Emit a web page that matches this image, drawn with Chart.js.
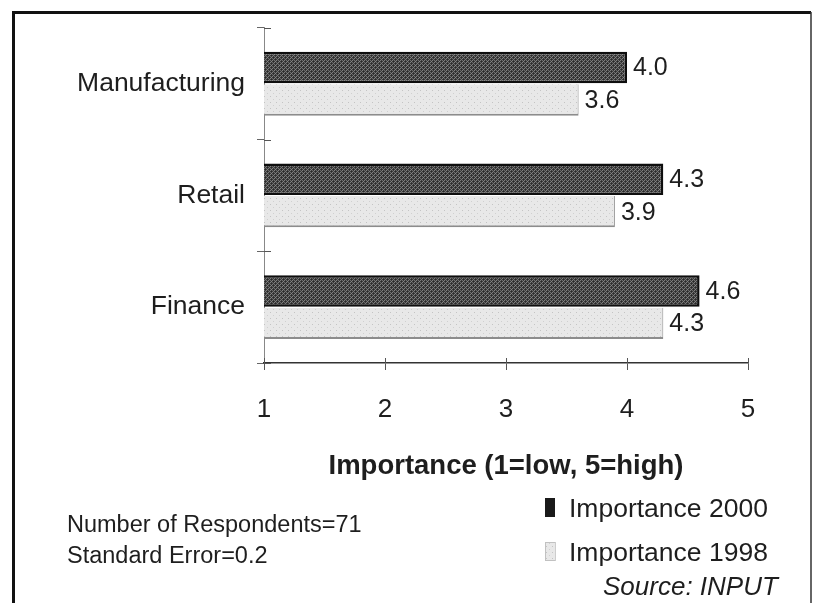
<!DOCTYPE html>
<html>
<head>
<meta charset="utf-8">
<script src="https://cdn.jsdelivr.net/npm/chart.js@4/dist/chart.umd.min.js"></script>
<style>
  html, body { margin: 0; padding: 0; background: #ffffff; }
  #wrap { width: 814px; height: 603px; position: relative; }
</style>
</head>
<body>
<div id="wrap"><canvas id="c" width="814" height="603"></canvas></div>
<script>
// Chart data
const categories = ['Manufacturing', 'Retail', 'Finance'];
const importance2000 = [4.0, 4.3, 4.6];
const importance1998 = [3.6, 3.9, 4.3];
const seriesNames = ['Importance 2000', 'Importance 1998'];
const xTicks = [1, 2, 3, 4, 5];
const axisTitle = 'Importance (1=low, 5=high)';
const notes = ['Number of Respondents=71', 'Standard Error=0.2'];
const sourceNote = 'Source: INPUT';

const FONT = "'Liberation Sans', Arial, Helvetica, sans-serif";
const INK = '#1e1e1e';

const canvas = document.getElementById('c');
const ctx = canvas.getContext('2d');

// Halftone-like fills for the bars
function makePattern(size, base, dots) {
  const tile = document.createElement('canvas');
  tile.width = tile.height = size;
  const g = tile.getContext('2d');
  g.fillStyle = base;
  g.fillRect(0, 0, size, size);
  dots.forEach(([dx, dy, col]) => { g.fillStyle = col; g.fillRect(dx, dy, 1, 1); });
  return ctx.createPattern(tile, 'repeat');
}
const darkFill = makePattern(4, '#3a3a3a', [
  [0, 0, '#7c7c7c'], [2, 0, '#6e6e6e'], [1, 1, '#2a2a2a'], [3, 1, '#858585'],
  [0, 2, '#666666'], [2, 2, '#808080'], [1, 3, '#777777'], [3, 3, '#2a2a2a']
]);
const lightFill = makePattern(6, '#e8e8e8', [[0, 0, '#c4c4c4'], [3, 3, '#d0d0d0']]);

const decor = {
  id: 'decor',
  afterDatasetsDraw(chart) {
    const c = chart.ctx;
    c.save();
    c.font = `25px ${FONT}`;
    c.fillStyle = INK;
    c.textAlign = 'left';
    c.textBaseline = 'middle';
    chart.data.datasets.forEach((ds, di) => {
      chart.getDatasetMeta(di).data.forEach((bar, i) => {
        c.fillText(ds.data[i].toFixed(1), bar.x + 6, bar.y + 1);
      });
    });
    c.restore();
  },
  afterDraw(chart) {
    const c = chart.ctx;
    const { x, y } = chart.scales;
    c.save();

    // inner halves of the crossing tick marks
    c.strokeStyle = '#555';
    c.lineWidth = 1;
    c.beginPath();
    xTicks.forEach(v => {
      const px = Math.round(x.getPixelForValue(v)) + 0.5;
      c.moveTo(px, x.top - 5);
      c.lineTo(px, x.top);
    });
    for (let i = 0; i <= categories.length; i++) {
      const py = Math.round(y.getPixelForValue(i - 0.5)) + 0.5;
      c.moveTo(y.right, py);
      c.lineTo(y.right + 7, py);
    }
    c.stroke();

    // frame
    c.strokeStyle = '#111';
    c.lineWidth = 3;
    c.beginPath();
    c.moveTo(13.5, 603);
    c.lineTo(13.5, 12.5);
    c.lineTo(811, 12.5);
    c.stroke();
    c.strokeStyle = '#333';
    c.lineWidth = 1.5;
    c.beginPath();
    c.moveTo(811, 12);
    c.lineTo(811, 603);
    c.stroke();

    // notes
    c.fillStyle = INK;
    c.textAlign = 'left';
    c.textBaseline = 'alphabetic';
    c.font = `23.5px ${FONT}`;
    c.fillText(notes[0], 67, 532);
    c.fillText(notes[1], 67, 563);

    // legend
    const ds = chart.data.datasets;
    c.font = `26.5px ${FONT}`;
    c.fillStyle = '#1a1a1a';
    c.fillRect(545, 498, 10, 19);
    c.fillStyle = ds[1].backgroundColor;
    c.fillRect(545, 542, 10, 19);
    c.strokeStyle = '#9a9a9a';
    c.lineWidth = 1;
    c.setLineDash([1, 1]);
    c.strokeRect(545.5, 542.5, 10, 18);
    c.setLineDash([]);
    c.fillStyle = INK;
    c.fillText(ds[0].label, 569, 517);
    c.fillText(ds[1].label, 569, 561);

    // source
    c.font = `italic 26px ${FONT}`;
    c.fillText(sourceNote, 603, 595);

    c.restore();
  }
};

new Chart(ctx, {
  type: 'bar',
  data: {
    labels: categories,
    datasets: [
      {
        label: seriesNames[0],
        data: importance2000,
        backgroundColor: darkFill,
        borderColor: '#0e0e0e',
        borderWidth: 2.5,
        borderSkipped: false,
        barPercentage: 0.97,
        categoryPercentage: 0.58
      },
      {
        label: seriesNames[1],
        data: importance1998,
        backgroundColor: lightFill,
        borderColor: '#8c8c8c',
        borderWidth: { top: 0, right: 1, bottom: 2, left: 1 },
        borderSkipped: false,
        barPercentage: 0.97,
        categoryPercentage: 0.58
      }
    ]
  },
  options: {
    indexAxis: 'y',
    responsive: false,
    animation: false,
    devicePixelRatio: 1,
    layout: { padding: { left: 14, right: 66, top: 24, bottom: 120 } },
    plugins: {
      legend: { display: false },
      tooltip: { enabled: false }
    },
    scales: {
      x: {
        type: 'linear',
        min: 1,
        max: 5,
        afterBuildTicks: s => { s.ticks = xTicks.map(v => ({ value: v })); },
        afterFit: s => { s.height = 120; },
        ticks: { font: { family: FONT, size: 26 }, color: INK, padding: 24 },
        grid: { drawOnChartArea: false, tickLength: 7, color: '#555', lineWidth: 1 },
        border: { display: true, color: '#333', width: 1.5 },
        title: {
          display: true,
          text: axisTitle,
          color: INK,
          font: { family: FONT, size: 27.5, weight: 'bold' },
          padding: { top: 0, bottom: 0 }
        }
      },
      y: {
        afterFit: s => { s.width = 250; },
        ticks: { font: { family: FONT, size: 26.5 }, color: INK, padding: 12 },
        grid: { drawOnChartArea: false, tickLength: 7, color: '#666', lineWidth: 1, offset: true },
        border: { display: true, color: '#888', width: 1 }
      }
    }
  },
  plugins: [decor]
});
</script>
</body>
</html>
